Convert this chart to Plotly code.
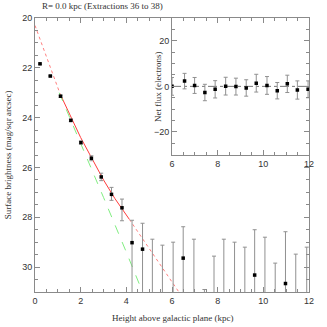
import plotly.graph_objects as go

# ---------------- data ----------------
# main panel: surface brightness profile
height_kpc = [0.22, 0.67, 1.12, 1.57, 2.01, 2.47, 2.90, 3.35, 3.81, 4.25, 4.71,
              5.14, 5.58, 6.05, 6.49, 6.96, 7.42, 7.84, 8.27, 8.74, 9.19, 9.62,
              10.07, 10.52, 10.97, 11.42, 11.90]
sb_mag = [21.84, 22.33, 23.14, 24.11, 25.00, 25.63, 26.38, 27.08, 27.62, 29.02, 29.28,
          31.5, 31.5, 31.5, 29.64, 31.5, 31.5, 31.5, 31.5, 31.5, 31.5, 30.32,
          31.5, 31.5, 30.66, 31.5, 31.5]
sb_err_bright = [0.03, 0.03, 0.04, 0.05, 0.06, 0.10, 0.15, 0.28, 0.35, 0.90, 1.04,
                 2.62, 2.38, 2.50, 1.26, 2.62, 0.60, 1.94, 2.62, 2.50, 2.30, 1.82,
                 2.70, 1.66, 2.08, 2.02, 2.30]
sb_err_faint = [0.03, 0.03, 0.04, 0.05, 0.06, 0.10, 0.15, 0.24, 0.52, 3.0, 3.0,
                3.0, 3.0, 3.0, 3.0, 3.0, 3.0, 3.0, 3.0, 3.0, 3.0, 3.0,
                3.0, 3.0, 3.0, 3.0, 3.0]

# two-component fit (red) and single-component fit (green)
fit_x = [0.0, 0.5, 1.1, 1.6, 2.0, 2.5, 3.0, 3.5, 4.13, 5.0, 5.5, 6.3]
fit_y = [20.3, 21.55, 23.05, 24.05, 24.8, 25.65, 26.5, 27.25, 28.08, 29.25, 29.95, 31.0]
thin_x = [1.06, 2.0, 3.0, 4.0, 4.71]
thin_y = [23.0, 25.0, 27.2, 29.4, 31.0]

# inset: net flux
flux_x = [6.0, 6.55, 6.99, 7.44, 7.89, 8.35, 8.8, 9.25, 9.69, 10.16, 10.61, 11.05, 11.49, 11.96]
flux = [0.0, 2.3, 0.4, -2.7, -1.3, 0.1, -0.1, -0.7, 1.4, 0.4, -1.9, 1.1, -1.6, -1.3]
flux_err = [3.9, 3.4, 3.5, 3.6, 3.8, 3.9, 3.7, 3.6, 3.9, 3.9, 3.6, 3.8, 4.0, 3.7]

title_text = "R= 0.0 kpc (Extractions 36 to 38)"
xlabel = "Height above galactic plane (kpc)"
ylabel = "Surface brightness (mag/sqr arcsec)"
inset_ylabel = "Net flux (electrons)"

# ---------------- figure ----------------
AX = "#8a8a8a"
EB = "#909090"
fig = go.Figure()

# red fit: dotted / solid / dotted
fig.add_trace(go.Scatter(x=fit_x[:3], y=fit_y[:3], mode="lines",
                         line=dict(color="#ff8080", width=1, dash="dot"), hoverinfo="skip"))
fig.add_trace(go.Scatter(x=fit_x[2:9], y=fit_y[2:9], mode="lines",
                         line=dict(color="#ff3b3b", width=1), hoverinfo="skip"))
fig.add_trace(go.Scatter(x=fit_x[8:], y=fit_y[8:], mode="lines",
                         line=dict(color="#ff8080", width=1, dash="dot"), hoverinfo="skip"))
# green fit dashed
fig.add_trace(go.Scatter(x=thin_x, y=thin_y, mode="lines",
                         line=dict(color="#80ee80", width=1, dash="dash"), hoverinfo="skip"))

# data points
fig.add_trace(go.Scatter(
    x=height_kpc, y=sb_mag, mode="markers",
    marker=dict(symbol="square", size=3.5, color="black"),
    error_y=dict(type="data", symmetric=False, array=sb_err_faint,
                 arrayminus=sb_err_bright, color=EB, thickness=1, width=2),
    cliponaxis=True))

# inset
fig.add_trace(go.Scatter(x=[6, 12], y=[0, 0], mode="lines", xaxis="x2", yaxis="y2",
                         line=dict(color="#777777", width=1, dash="dashdot"), hoverinfo="skip"))
fig.add_trace(go.Scatter(
    x=flux_x, y=flux, mode="markers", xaxis="x2", yaxis="y2",
    marker=dict(symbol="square", size=3.5, color="black"),
    error_y=dict(type="data", array=flux_err, color=EB, thickness=1, width=2)))

tickfont = dict(family="Liberation Sans, Arial", size=9, color="#333333")
common = dict(showline=True, linecolor=AX, linewidth=1, mirror="ticks",
              ticks="inside", tickcolor=AX, ticklen=5, tickwidth=1,
              showgrid=False, zeroline=False, tickfont=tickfont)

fig.update_layout(
    width=327, height=327,
    autosize=False,
    margin=dict(l=35, r=18, t=18, b=35),
    paper_bgcolor="white", plot_bgcolor="white",
    showlegend=False,
    xaxis=dict(range=[0, 12], dtick=2, domain=[0, 1],
               minor=dict(dtick=0.5, ticks="inside", ticklen=3, tickcolor=AX), **common),
    yaxis=dict(range=[31, 20], dtick=2, domain=[0, 1],
               minor=dict(dtick=0.5, ticks="inside", ticklen=3, tickcolor=AX), **common),
    xaxis2=dict(range=[6, 12], dtick=2, domain=[0.5, 1], anchor="y2",
                minor=dict(dtick=0.5, ticks="inside", ticklen=3, tickcolor=AX), **common),
    yaxis2=dict(range=[-30, 30], dtick=20, domain=[0.501, 1], anchor="x2",
                minor=dict(dtick=5, ticks="inside", ticklen=3, tickcolor=AX), **common),
    shapes=[dict(type="rect", xref="paper", yref="paper", x0=0.5, x1=1, y0=0.501, y1=1,
                 fillcolor="white", line=dict(width=0), layer="below")],
    annotations=[
        dict(text=title_text, xref="paper", yref="paper", x=0.02, y=1.043,
             xanchor="left", yanchor="middle", showarrow=False,
             font=dict(family="Liberation Serif, DejaVu Serif", size=9, color="#333333")),
        dict(text=xlabel, xref="paper", yref="paper", x=0.5, y=-0.095,
             xanchor="center", yanchor="middle", showarrow=False,
             font=dict(family="Liberation Serif, DejaVu Serif", size=9, color="#333333")),
        dict(text=ylabel, xref="paper", yref="paper", x=-0.098, y=0.5, textangle=-90,
             xanchor="center", yanchor="middle", showarrow=False,
             font=dict(family="Liberation Serif, DejaVu Serif", size=9, color="#333333")),
        dict(text=inset_ylabel, xref="paper", yref="paper", x=0.447, y=0.75, textangle=-90,
             xanchor="center", yanchor="middle", showarrow=False,
             font=dict(family="Liberation Serif, DejaVu Serif", size=9, color="#333333")),
    ],
)

fig.write_html("out.html", config={"displayModeBar": False},
               post_script="document.body.style.margin='0';document.body.style.padding='0';")
